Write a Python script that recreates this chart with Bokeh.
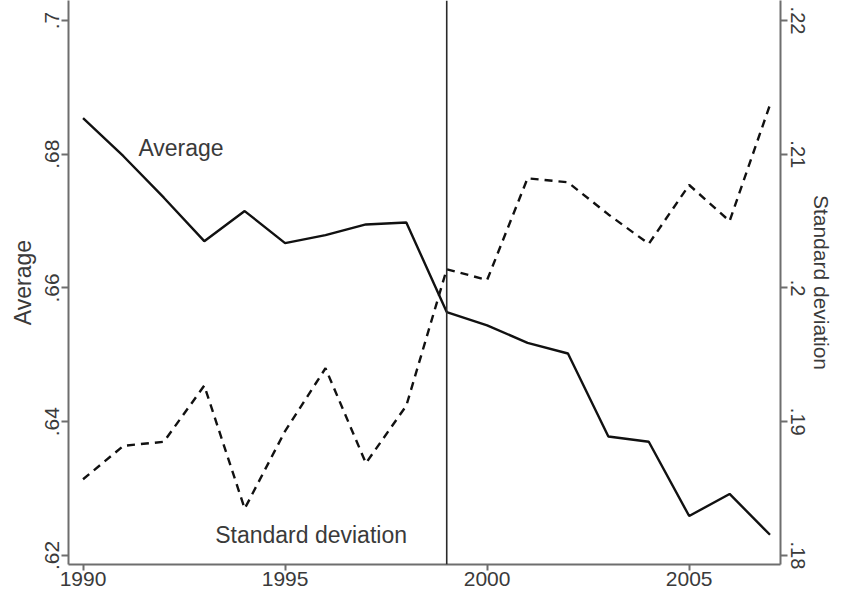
from bokeh.plotting import figure
from bokeh.models import Range1d, LinearAxis, FixedTicker, CustomJSTickFormatter, Span, Label
from bokeh.embed import file_html
from bokeh.resources import INLINE

years = list(range(1990, 2008))
average = [0.6854, 0.6797, 0.6735, 0.6670, 0.6715, 0.6667, 0.6679, 0.6695, 0.6698,
           0.6564, 0.6544, 0.6518, 0.6502, 0.6378, 0.6370, 0.6259, 0.6292, 0.6231]
std_dev = [0.1857, 0.1882, 0.1885, 0.1927, 0.1835, 0.1893, 0.1940, 0.1869, 0.1912,
           0.2014, 0.2006, 0.2082, 0.2079, 0.2055, 0.2033, 0.2077, 0.2050, 0.2137]
x_ticks = [1990, 1995, 2000, 2005]
avg_ticks = [0.62, 0.64, 0.66, 0.68, 0.70]
sd_ticks = [0.18, 0.19, 0.20, 0.21, 0.22]
break_year = 1999
series_labels = ["Average", "Standard deviation"]
label_x = [1991.37, 1993.27]
label_y = [0.6810, 0.6230]

FONT = "Liberation Sans"
TXT = "#3a3a3a"
AX = "#6e6e6e"
FW, FH = 712, 564

p = figure(frame_width=FW, frame_height=FH, output_backend="svg", toolbar_location=None,
           x_range=Range1d(1989.64, 2007.26), y_range=Range1d(0.61865, 0.70299),
           min_border_left=68, min_border_right=0, min_border_top=0, min_border_bottom=0)
p.extra_y_ranges = {"sd": Range1d(0.179325, 0.221495)}
p.outline_line_color = None
p.xgrid.visible = False
p.ygrid.visible = False
p.background_fill_color = "white"

fmt = CustomJSTickFormatter(code="""
let s = tick.toFixed(2);
if (s.endsWith('0')) s = s.slice(0, -1);
return s.replace(/^0/, '');
""")

def style_axis(ax, fs="21px", title_fs="23px"):
    ax.axis_line_color = AX
    ax.axis_line_width = 2
    ax.major_tick_line_color = AX
    ax.major_tick_line_width = 2
    ax.major_tick_out = 7
    ax.major_tick_in = 0
    ax.minor_tick_line_color = None
    ax.major_label_text_font = FONT
    ax.major_label_text_font_size = fs
    ax.major_label_text_color = TXT
    ax.axis_label_text_font = FONT
    ax.axis_label_text_font_size = title_fs
    ax.axis_label_text_font_style = "normal"
    ax.axis_label_text_color = TXT

xa = p.xaxis[0]
style_axis(xa)
xa.ticker = FixedTicker(ticks=x_ticks)
xa.major_tick_out = 6
xa.major_label_standoff = 1

ya = p.yaxis[0]
style_axis(ya)
ya.ticker = FixedTicker(ticks=avg_ticks)
ya.formatter = fmt
ya.major_label_orientation = "parallel"
ya.major_label_standoff = 2
ya.axis_label = series_labels[0]
ya.axis_label_standoff = 7

ra = LinearAxis(y_range_name="sd")
style_axis(ra, "20px", "21px")
ra.ticker = FixedTicker(ticks=sd_ticks)
ra.formatter = fmt
ra.major_label_orientation = "parallel"
ra.major_label_standoff = 3
ra.axis_label = series_labels[1]
ra.axis_label_standoff = 2
p.add_layout(ra, "right")

p.add_layout(Span(location=break_year, dimension="height", line_color="#2a2a2a", line_width=1.6))

p.line(years, average, line_color="#111111", line_width=2.4)
p.line(years, std_dev, y_range_name="sd", line_color="#111111", line_width=2.4, line_dash="8 6")

for t, lx, ly in zip(series_labels, label_x, label_y):
    p.add_layout(Label(x=lx, y=ly, text=t, text_font=FONT, text_font_size="23px",
                       text_color=TXT, text_baseline="middle", text_align="left"))

open("out.html", "w").write(file_html(p, INLINE))
